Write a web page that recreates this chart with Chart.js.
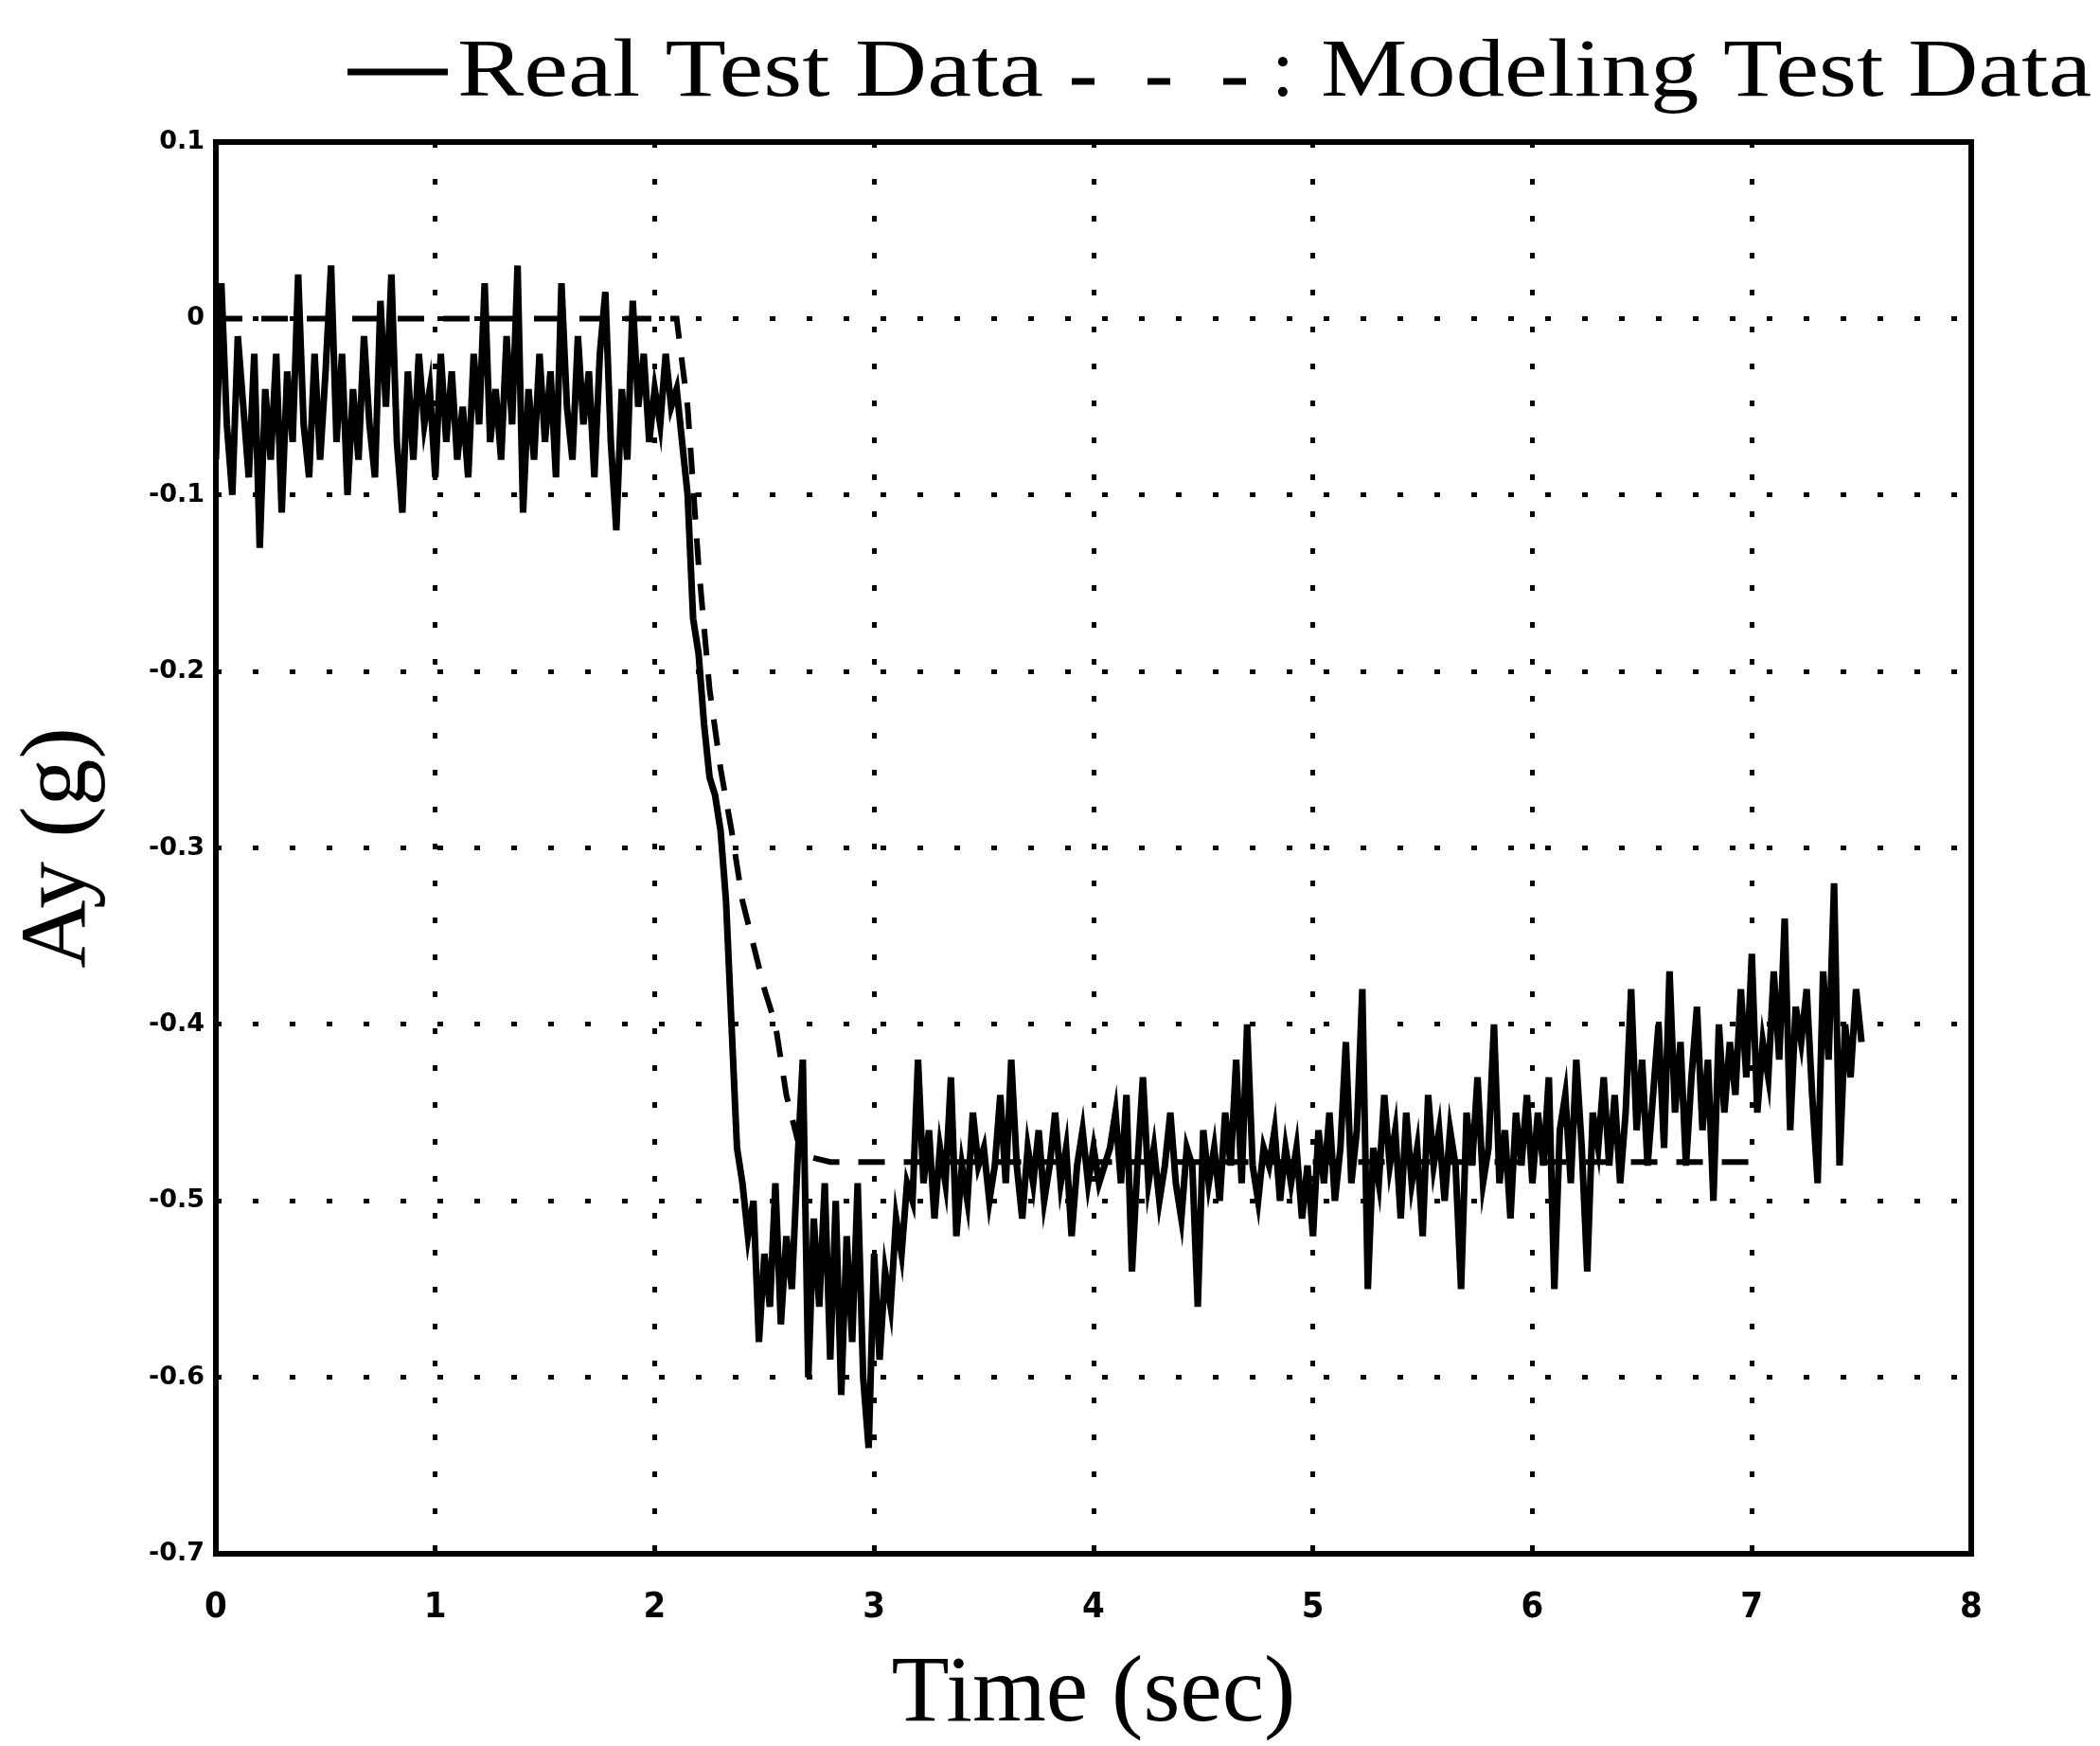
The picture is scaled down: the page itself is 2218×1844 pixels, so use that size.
<!DOCTYPE html>
<html>
<head>
<meta charset="utf-8">
<script src="https://cdn.jsdelivr.net/npm/chart.js@4/dist/chart.umd.min.js"></script>
<style>
html,body{margin:0;padding:0;background:#fff;}
canvas{display:block;}
</style>
</head>
<body>
<canvas id="c" width="2218" height="1844"></canvas>
<script>
// ---- Data ----
const timeSec = [
0,0.025,0.05,0.075,0.1,0.125,0.15,0.175,0.2,0.225,0.25,0.275,0.3,0.325,0.35,0.375,0.4,0.425,0.45,0.475,
0.5,0.525,0.55,0.575,0.6,0.625,0.65,0.675,0.7,0.725,0.75,0.775,0.8,0.825,0.85,0.875,0.9,0.925,0.95,0.975,
1,1.025,1.05,1.075,1.1,1.125,1.15,1.175,1.2,1.225,1.25,1.275,1.3,1.325,1.35,1.375,1.4,1.425,1.45,1.475,
1.5,1.525,1.55,1.575,1.6,1.625,1.65,1.675,1.7,1.725,1.75,1.775,1.8,1.825,1.85,1.875,1.9,1.925,1.95,1.975,
2,2.025,2.05,2.075,2.1,2.125,2.15,2.175,2.2,2.225,2.25,2.275,2.3,2.325,2.35,2.375,2.4,2.425,2.45,2.475,
2.5,2.525,2.55,2.575,2.6,2.625,2.65,2.675,2.7,2.725,2.75,2.775,2.8,2.825,2.85,2.875,2.9,2.925,2.95,2.975,
3,3.025,3.05,3.075,3.1,3.125,3.15,3.175,3.2,3.225,3.25,3.275,3.3,3.325,3.35,3.375,3.4,3.425,3.45,3.475,
3.5,3.525,3.55,3.575,3.6,3.625,3.65,3.675,3.7,3.725,3.75,3.775,3.8,3.825,3.85,3.875,3.9,3.925,3.95,3.975,
4,4.025,4.05,4.075,4.1,4.125,4.15,4.175,4.2,4.225,4.25,4.275,4.3,4.325,4.35,4.375,4.4,4.425,4.45,4.475,
4.5,4.525,4.55,4.575,4.6,4.625,4.65,4.675,4.7,4.725,4.75,4.775,4.8,4.825,4.85,4.875,4.9,4.925,4.95,4.975,
5,5.025,5.05,5.075,5.1,5.125,5.15,5.175,5.2,5.225,5.25,5.275,5.3,5.325,5.35,5.375,5.4,5.425,5.45,5.475,
5.5,5.525,5.55,5.575,5.6,5.625,5.65,5.675,5.7,5.725,5.75,5.775,5.8,5.825,5.85,5.875,5.9,5.925,5.95,5.975,
6,6.025,6.05,6.075,6.1,6.125,6.15,6.175,6.2,6.225,6.25,6.275,6.3,6.325,6.35,6.375,6.4,6.425,6.45,6.475,
6.5,6.525,6.55,6.575,6.6,6.625,6.65,6.675,6.7,6.725,6.75,6.775,6.8,6.825,6.85,6.875,6.9,6.925,6.95,6.975,
7,7.025,7.05,7.075,7.1,7.125,7.15,7.175,7.2,7.225,7.25,7.275,7.3,7.325,7.35,7.375,7.4,7.425,7.45,7.475,
7.5
];

const realAy = [
-0.08,0.02,-0.06,-0.10,-0.01,-0.05,-0.09,-0.02,-0.13,-0.04,-0.08,-0.02,-0.11,-0.03,-0.07,0.025,-0.06,-0.09,-0.02,-0.08,
-0.03,0.03,-0.07,-0.02,-0.10,-0.04,-0.08,-0.01,-0.06,-0.09,0.01,-0.05,0.025,-0.07,-0.11,-0.03,-0.08,-0.02,-0.06,-0.04,
-0.09,-0.02,-0.07,-0.03,-0.08,-0.05,-0.09,-0.02,-0.06,0.02,-0.07,-0.04,-0.08,-0.01,-0.06,0.03,-0.11,-0.04,-0.08,-0.02,
-0.07,-0.03,-0.09,0.02,-0.05,-0.08,-0.01,-0.06,-0.03,-0.09,-0.02,0.015,-0.07,-0.12,-0.04,-0.08,0.01,-0.05,-0.02,-0.07,
-0.04,-0.06,-0.02,-0.05,-0.04,-0.07,-0.10,-0.17,-0.19,-0.23,-0.26,-0.27,-0.29,-0.33,-0.40,-0.47,-0.49,-0.52,-0.50,-0.58,
-0.53,-0.56,-0.49,-0.57,-0.52,-0.55,-0.48,-0.42,-0.60,-0.51,-0.56,-0.49,-0.59,-0.50,-0.61,-0.52,-0.58,-0.49,-0.60,-0.64,
-0.53,-0.59,-0.54,-0.56,-0.51,-0.53,-0.49,-0.50,-0.42,-0.49,-0.46,-0.51,-0.47,-0.49,-0.43,-0.52,-0.48,-0.50,-0.45,-0.48,
-0.47,-0.50,-0.48,-0.44,-0.49,-0.42,-0.48,-0.51,-0.47,-0.49,-0.46,-0.50,-0.48,-0.45,-0.49,-0.47,-0.52,-0.48,-0.46,-0.49,
-0.47,-0.49,-0.48,-0.47,-0.45,-0.49,-0.44,-0.54,-0.48,-0.43,-0.49,-0.47,-0.50,-0.48,-0.45,-0.49,-0.51,-0.47,-0.48,-0.56,
-0.46,-0.49,-0.47,-0.50,-0.45,-0.48,-0.42,-0.49,-0.40,-0.48,-0.50,-0.47,-0.48,-0.46,-0.50,-0.47,-0.49,-0.47,-0.51,-0.48,
-0.52,-0.46,-0.49,-0.45,-0.50,-0.47,-0.41,-0.49,-0.46,-0.38,-0.55,-0.47,-0.49,-0.44,-0.48,-0.46,-0.51,-0.45,-0.49,-0.47,
-0.52,-0.44,-0.48,-0.46,-0.50,-0.46,-0.48,-0.55,-0.45,-0.48,-0.43,-0.49,-0.47,-0.40,-0.49,-0.46,-0.51,-0.45,-0.48,-0.44,
-0.49,-0.45,-0.48,-0.43,-0.55,-0.46,-0.44,-0.49,-0.42,-0.47,-0.54,-0.45,-0.47,-0.43,-0.48,-0.44,-0.49,-0.45,-0.38,-0.46,
-0.42,-0.48,-0.44,-0.40,-0.47,-0.37,-0.45,-0.41,-0.48,-0.43,-0.39,-0.46,-0.42,-0.50,-0.40,-0.45,-0.41,-0.44,-0.38,-0.43,
-0.36,-0.45,-0.41,-0.43,-0.37,-0.42,-0.34,-0.46,-0.39,-0.41,-0.38,-0.44,-0.49,-0.37,-0.42,-0.32,-0.48,-0.40,-0.43,-0.38,
-0.41
];

const modelTime = [0, 2.1, 2.15, 2.2, 2.25, 2.3, 2.35, 2.4, 2.45, 2.5, 2.55, 2.6, 2.65, 2.7, 2.8, 3.0, 4.0, 5.0, 6.0, 7.0];
const modelAy   = [0, 0, -0.05, -0.14, -0.21, -0.255, -0.29, -0.33, -0.355, -0.38, -0.40, -0.44, -0.465, -0.475, -0.478, -0.478, -0.478, -0.478, -0.478, -0.478];

const xTickValues = [0, 1, 2, 3, 4, 5, 6, 7, 8];
const xTickLabels = ['0', '1', '2', '3', '4', '5', '6', '7', '8'];
const yTickValues = [-0.7, -0.6, -0.5, -0.4, -0.3, -0.2, -0.1, 0, 0.1];
const yTickLabels = ['-0.7', '-0.6', '-0.5', '-0.4', '-0.3', '-0.2', '-0.1', '0', '0.1'];

const seriesNames = ['Real Test Data', 'Modeling Test Data'];
const xTitle = 'Time (sec)';
const yTitle = 'Ay (g)';

// ---- Chart ----
const SERIF = '"Liberation Serif", "DejaVu Serif", serif';

function drawStretchedText(ctx, text, x, baseline, targetWidth) {
  const w = ctx.measureText(text).width;
  ctx.save();
  ctx.translate(x, baseline);
  ctx.scale(targetWidth / w, 1);
  ctx.fillText(text, 0, 0);
  ctx.restore();
}

const legendPlugin = {
  id: 'paperLegend',
  afterDraw(chart) {
    const ctx = chart.ctx;
    ctx.save();
    ctx.fillStyle = '#000';
    ctx.strokeStyle = '#000';
    ctx.textBaseline = 'alphabetic';
    ctx.textAlign = 'left';
    ctx.font = '86px ' + SERIF;
    // solid sample
    ctx.lineWidth = 7;
    ctx.setLineDash([]);
    ctx.beginPath(); ctx.moveTo(367, 76); ctx.lineTo(473, 76); ctx.stroke();
    drawStretchedText(ctx, seriesNames[0], 483, 101, 619);
    // dashed sample
    ctx.lineWidth = 7;
    ctx.setLineDash([24, 56]);
    ctx.beginPath(); ctx.moveTo(1132, 86); ctx.lineTo(1320, 86); ctx.stroke();
    ctx.setLineDash([]);
    ctx.fillText(':', 1343, 101);
    drawStretchedText(ctx, seriesNames[1], 1395, 101, 2209 - 1395);
    ctx.restore();
  }
};

const framePlugin = {
  id: 'frame',
  afterDatasetsDraw(chart) {
    const {ctx, chartArea: a} = chart;
    ctx.save();
    ctx.lineWidth = 6;
    ctx.strokeStyle = '#000';
    ctx.setLineDash([]);
    ctx.strokeRect(a.left, a.top, a.right - a.left, a.bottom - a.top);
    ctx.restore();
  }
};

const whiteBg = {
  id: 'whiteBg',
  beforeDraw(chart) {
    const ctx = chart.ctx;
    ctx.save();
    ctx.fillStyle = '#fff';
    ctx.fillRect(0, 0, chart.width, chart.height);
    ctx.restore();
  }
};

new Chart(document.getElementById('c'), {
  type: 'line',
  data: {
    datasets: [
      {
        label: seriesNames[0],
        data: timeSec.map((t, i) => ({x: t, y: realAy[i]})),
        borderColor: '#000',
        borderWidth: 7,
        pointRadius: 0,
        tension: 0,
        fill: false,
        order: 1
      },
      {
        label: seriesNames[1],
        data: modelTime.map((t, i) => ({x: t, y: modelAy[i]})),
        borderColor: '#000',
        borderWidth: 6,
        borderDash: [28, 20],
        pointRadius: 0,
        tension: 0,
        fill: false,
        order: 2
      }
    ]
  },
  options: {
    responsive: false,
    devicePixelRatio: 1,
    animation: false,
    layout: { padding: { top: 150, right: 136, bottom: 0, left: 0 } },
    plugins: {
      legend: { display: false },
      tooltip: { enabled: false }
    },
    scales: {
      x: {
        type: 'linear',
        min: 0, max: 8,
        afterFit(s) { s.height = 203; },
        afterBuildTicks(s) { s.ticks = xTickValues.map(v => ({value: v})); },
        ticks: {
          color: '#000',
          padding: 34,
          autoSkip: false,
          maxRotation: 0,
          font: { family: '"DejaVu Sans Condensed", "DejaVu Sans", sans-serif', size: 38, weight: 'bold' },
          callback: (v, i) => xTickLabels[i]
        },
        grid: { color: '#000', lineWidth: 5, drawTicks: false },
        border: { display: false, dash: [6, 33] },
        title: {
          display: true, text: xTitle, color: '#000',
          font: { family: SERIF, size: 100, lineHeight: 1 },
          padding: { top: 0, bottom: 3 }
        }
      },
      y: {
        type: 'linear',
        min: -0.7, max: 0.1,
        afterFit(s) { s.width = 228; },
        afterBuildTicks(s) { s.ticks = yTickValues.map(v => ({value: v})); },
        ticks: {
          color: '#000',
          padding: 12,
          autoSkip: false,
          font: { family: '"DejaVu Sans", sans-serif', size: 27, weight: 'bold' },
          callback: (v, i) => yTickLabels[i]
        },
        grid: { color: '#000', lineWidth: 5, drawTicks: false },
        border: { display: false, dash: [6, 33] },
        title: {
          display: true, text: yTitle, color: '#000',
          font: { family: SERIF, size: 100, lineHeight: 1 },
          padding: { top: 14, bottom: 0 }
        }
      }
    }
  },
  plugins: [whiteBg, framePlugin, legendPlugin]
});
</script>
</body>
</html>
